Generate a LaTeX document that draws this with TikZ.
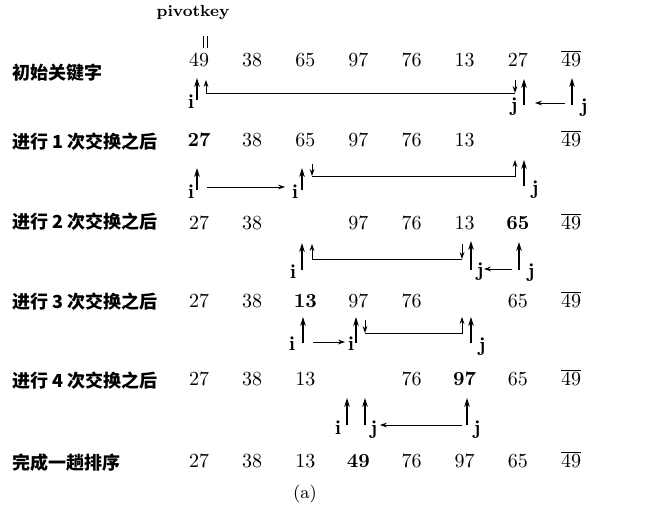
\documentclass[tikz,border=0pt]{standalone}
\usepackage{fontspec}
\newfontfamily\cjk{Noto Sans CJK SC}
\usetikzlibrary{arrows.meta, positioning, calc}

\begin{document}
\begin{tikzpicture}[x=0.5pt, y=-0.5pt,
  num/.style={inner sep=0pt, font=\normalsize},
  rowlab/.style={anchor=west, inner sep=0pt, font=\cjk\bfseries\fontsize{9}{11}\selectfont},
  ptr/.style={inner sep=0pt, font=\bfseries},
  ptrarr/.style={line width=0.6pt, -{Stealth[length=4.5pt, width=2.8pt]}},
  movearr/.style={line width=0.45pt, -{Stealth[length=3.5pt, width=2.4pt]}}]
  \useasboundingbox (0,0) rectangle (667,514);
  % pivot key
  \node[inner sep=0pt, font=\footnotesize\bfseries] (pivot) at (193,13) {pivotkey};
  \draw[line width=0.4pt] (203,36) -- (203,48) (207,36) -- (207,48);
  % row labels
  \node[rowlab] (lab0) at (12,73)  {初始关键字};
  \node[rowlab] (lab1) at (12,142) {进行 1 次交换之后};
  \node[rowlab] (lab2) at (12,222) {进行 2 次交换之后};
  \node[rowlab] (lab3) at (12,302) {进行 3 次交换之后};
  \node[rowlab] (lab4) at (12,381) {进行 4 次交换之后};
  \node[rowlab] (lab5) at (12,463) {完成一趟排序};
  % keys of every row
  \foreach \r/\y/\keys in {
      0/62/{49,38,65,97,76,13,27},
      1/142/{\textbf{27},38,65,97,76,13,{}},
      2/225/{27,38,{},97,76,13,\textbf{65}},
      3/303/{27,38,\textbf{13},97,76,{},65},
      4/381/{27,38,13,{},76,\textbf{97},65},
      5/463/{27,38,13,\textbf{49},76,97,65}} {
    \foreach \v [count=\c] in \keys
      \node[num] (r\r c\c) at ({199+53.14*(\c-1)},\y) {\strut\v};
    \node[num] (r\r c8) at (571,\y) {\strut$\overline{49}$};
  }
  % row 0
  \draw[ptrarr] (197,100) -- (197,78);
  \node[ptr] (i0) at (191,102) {i};
  \draw[movearr] (515,80) -- (515,93);
  \draw[movearr] (515,93) -- (206,93) -- (206,80);
  \draw[ptrarr] (524,105) -- (524,79);
  \node[ptr] (j0a) at (514,107) {j};
  \draw[movearr] (565,103) -- (535,103);
  \draw[ptrarr] (572,105) -- (572,78);
  \node[ptr] (j0b) at (584,108) {j};
  % row 1
  \draw[ptrarr] (197,190) -- (197,168);
  \node[ptr] (i1a) at (191,192) {i};
  \draw[movearr] (207,187) -- (285,187);
  \node[ptr] (i1b) at (295,192) {i};
  \draw[ptrarr] (302,190) -- (302,168);
  \draw[movearr] (312,164) -- (312,176);
  \draw[movearr] (312,176) -- (515,176) -- (515,160);
  \draw[ptrarr] (524,186) -- (524,160);
  \node[ptr] (j1) at (535,190) {j};
  % row 2
  \draw[ptrarr] (302,270) -- (302,243);
  \node[ptr] (i2) at (293,272) {i};
  \draw[movearr] (462,244) -- (462,259);
  \draw[movearr] (462,259) -- (312,259) -- (312,244);
  \draw[ptrarr] (471,270) -- (471,241);
  \node[ptr] (j2a) at (480,272) {j};
  \draw[movearr] (512,269) -- (484,269);
  \draw[ptrarr] (519,270) -- (519,242);
  \node[ptr] (j2b) at (531,273) {j};
  % row 3
  \draw[ptrarr] (303,343) -- (303,317);
  \node[ptr] (i3a) at (292,344) {i};
  \draw[movearr] (313,342) -- (345,342);
  \node[ptr] (i3b) at (351,344) {i};
  \draw[ptrarr] (356,343) -- (356,317);
  \draw[movearr] (365,320) -- (365,333);
  \draw[movearr] (365,333) -- (462,333) -- (462,317);
  \draw[ptrarr] (471,343) -- (471,317);
  \node[ptr] (j3) at (482,347) {j};
  % row 4
  \draw[ptrarr] (347,425) -- (347,398);
  \node[ptr] (i4) at (338,428) {i};
  \draw[ptrarr] (365,425) -- (365,398);
  \node[ptr] (j4a) at (374,430) {j};
  \draw[movearr] (462,425) -- (380,425);
  \draw[ptrarr] (467,425) -- (467,398);
  \node[ptr] (j4b) at (477,430) {j};
  % caption
  \node[inner sep=0pt, font=\small] (cap) at (305,494) {(a)};
\end{tikzpicture}
\end{document}
